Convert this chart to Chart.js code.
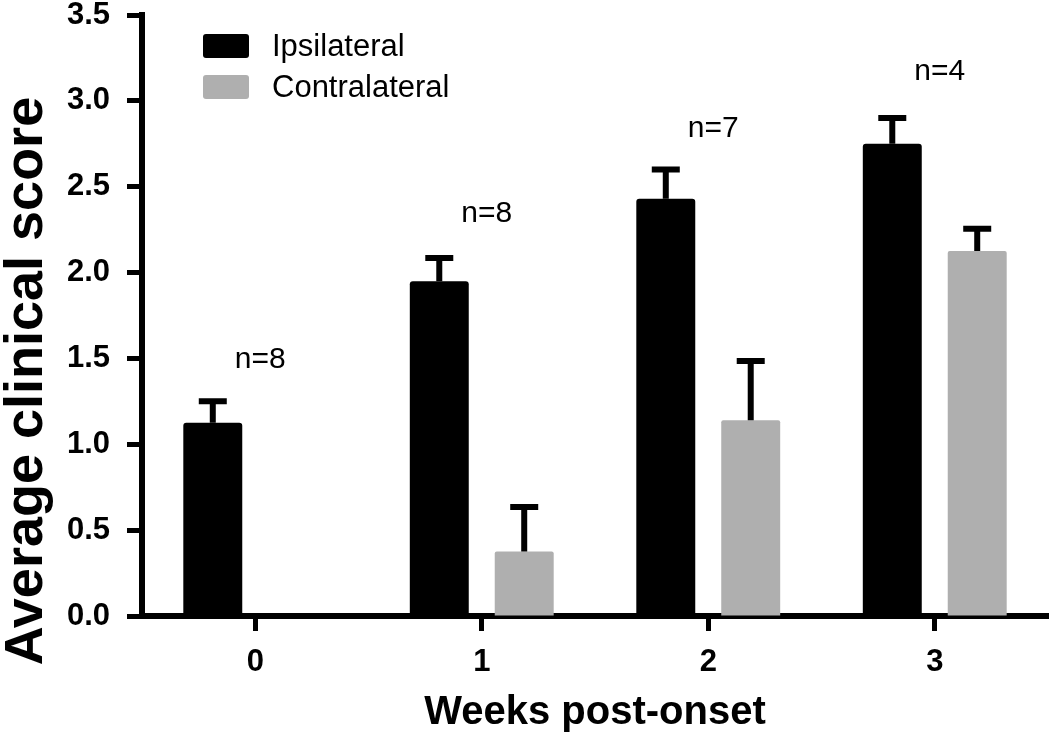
<!DOCTYPE html>
<html>
<head>
<meta charset="utf-8">
<script src="https://cdn.jsdelivr.net/npm/chart.js@4.4.1/dist/chart.umd.min.js"></script>
<style>
  html, body { margin: 0; padding: 0; background: #fff; }
  #wrap { width: 1050px; height: 739px; }
</style>
</head>
<body>
<div id="wrap"><canvas id="scoreChart"></canvas></div>
<script>
// values
const weeks = ['0', '1', '2', '3'];
const ipsilateral = [1.125, 1.95, 2.43, 2.75];
const ipsilateralErr = [0.125, 0.135, 0.17, 0.15];
const contralateral = [0, 0.375, 1.14, 2.125];
const contralateralErr = [0, 0.26, 0.345, 0.13];
const nLabels = ['n=8', 'n=8', 'n=7', 'n=4'];
const nLabelY = [1.49, 2.34, 2.84, 3.17];
const yTicks = [0, 0.5, 1.0, 1.5, 2.0, 2.5, 3.0, 3.5];

const FONT = 'Arial, "Liberation Sans", Helvetica, sans-serif';

// upper error bars (SEM) on top of each bar
const errorBars = {
    id: 'errorBars',
    afterDatasetsDraw(chart) {
        const ctx = chart.ctx;
        const yScale = chart.scales.y;
        chart.data.datasets.forEach((ds, i) => {
            const meta = chart.getDatasetMeta(i);
            meta.data.forEach((bar, j) => {
                const err = ds.errors[j];
                if (!err) return;
                const top = yScale.getPixelForValue(ds.data[j] + err);
                ctx.save();
                ctx.strokeStyle = '#000';
                ctx.lineWidth = 6;
                ctx.beginPath();
                ctx.moveTo(bar.x, bar.y);
                ctx.lineTo(bar.x, top);
                ctx.moveTo(bar.x - 14, top);
                ctx.lineTo(bar.x + 14, top);
                ctx.stroke();
                ctx.restore();
            });
        });
    }
};

// "n=" labels above each week group
const groupLabels = {
    id: 'groupLabels',
    afterDraw(chart) {
        const ctx = chart.ctx;
        const xs = chart.scales.x, ys = chart.scales.y;
        ctx.save();
        ctx.fillStyle = '#000';
        ctx.font = '30px ' + FONT;
        ctx.textAlign = 'center';
        ctx.textBaseline = 'middle';
        nLabels.forEach((t, i) => {
            ctx.fillText(t, xs.getPixelForValue(i) + 5, ys.getPixelForValue(nLabelY[i]));
        });
        ctx.restore();
    }
};

// legend box in the upper left + rotated y title
const decorations = {
    id: 'decorations',
    afterDraw(chart) {
        const ctx = chart.ctx;
        ctx.save();
        chart.data.datasets.forEach((ds, i) => {
            const y = 34 + i * 41;
            ctx.fillStyle = ds.backgroundColor;
            ctx.beginPath();
            ctx.roundRect(203, y, 46, 24, 3);
            ctx.fill();
            ctx.fillStyle = '#000';
            ctx.font = '31px ' + FONT;
            ctx.textAlign = 'left';
            ctx.textBaseline = 'middle';
            ctx.fillText(ds.label, 272, y + 13);
        });
        ctx.translate(27, 381);
        ctx.rotate(-Math.PI / 2);
        ctx.font = 'bold 54px ' + FONT;
        ctx.textAlign = 'center';
        ctx.textBaseline = 'middle';
        ctx.fillText('Average clinical score', 0, 0);
        ctx.restore();
    }
};

new Chart(document.getElementById('scoreChart'), {
    type: 'bar',
    data: {
        labels: weeks,
        datasets: [
            {
                label: 'Ipsilateral',
                data: ipsilateral,
                errors: ipsilateralErr,
                backgroundColor: '#000000',
                borderRadius: 3,
                borderSkipped: 'bottom'
            },
            {
                label: 'Contralateral',
                data: contralateral,
                errors: contralateralErr,
                backgroundColor: '#afafaf',
                borderRadius: 2,
                borderSkipped: 'bottom'
            }
        ]
    },
    options: {
        responsive: true,
        maintainAspectRatio: false,
        animation: false,
        layout: { padding: { top: 0, right: 2, bottom: 0, left: 0 } },
        categoryPercentage: 0.75,
        barPercentage: 0.694,
        plugins: {
            legend: { display: false },
            tooltip: { enabled: false }
        },
        scales: {
            x: {
                afterFit(scale) { scale.height = 123; },
                grid: {
                    display: true,
                    offset: false,
                    drawOnChartArea: false,
                    drawTicks: true,
                    tickLength: 15,
                    tickWidth: 5,
                    tickColor: '#000'
                },
                border: { display: true, width: 6, color: '#000' },
                ticks: {
                    color: '#000',
                    padding: 13,
                    font: { family: FONT, size: 31, weight: 'bold' }
                },
                title: {
                    display: true,
                    text: 'Weeks post-onset',
                    color: '#000',
                    font: { family: FONT, size: 40, weight: 'bold' },
                    padding: { top: 0, bottom: 2 }
                }
            },
            y: {
                min: 0,
                max: 3.5,
                afterFit(scale) {
                    scale.width = 142;
                    scale.paddingTop = 15;
                },
                afterBuildTicks(scale) { scale.ticks = yTicks.map(v => ({ value: v })); },
                grid: {
                    display: true,
                    drawOnChartArea: false,
                    drawTicks: true,
                    tickLength: 15,
                    tickWidth: 5,
                    tickColor: '#000'
                },
                border: { display: true, width: 6, color: '#000' },
                ticks: {
                    color: '#000',
                    padding: 17,
                    font: { family: FONT, size: 31, weight: 'bold' },
                    callback: v => Number(v).toFixed(1)
                }
            }
        }
    },
    plugins: [errorBars, groupLabels, decorations]
});
</script>
</body>
</html>
